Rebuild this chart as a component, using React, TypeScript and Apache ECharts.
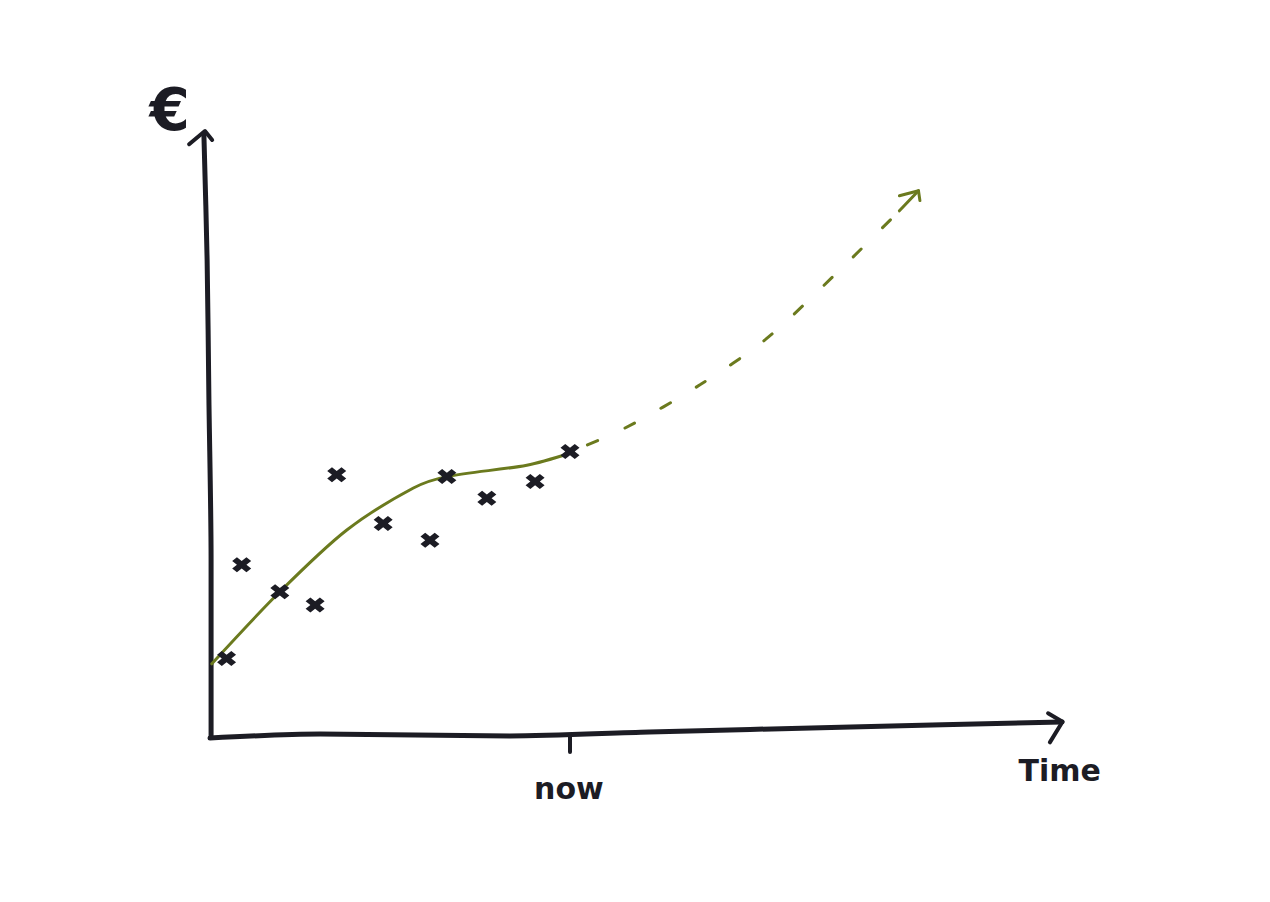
import React, { useEffect, useRef } from "react";
import * as echarts from "echarts";

// Observed values (crosses): time vs euros
const observedTime = [0.46, 0.88, 1.94, 2.92, 3.52, 4.81, 6.11, 6.58, 7.69, 9.03, 10.0];
const observedValue = [13.1, 28.7, 24.2, 22.0, 43.7, 35.6, 32.8, 43.4, 39.8, 42.6, 47.6];

// Fitted trend up to "now"
const trendTime = [0.05, 1.94, 3.8, 5.65, 6.58, 8.8, 10.0];
const trendValue = [12.2, 24.2, 34.5, 41.5, 43.4, 45.3, 47.3];

// Forecast after "now"
const forecastTime = [10.0, 11.53, 13.61, 15.44, 17.47, 19.15];
const forecastValue = [47.5, 51.5, 58.7, 66.3, 77.7, 87.7];
const forecastTipTime = 19.68;
const forecastTipValue = 91.05;
const forecastHeadTime = [19.15, 19.68, 19.72];
const forecastHeadValue = [90.2, 91.05, 89.4];

// Hand-drawn axes
const yAxisTime = [0.03, 0.03, -0.03, -0.08, -0.17];
const yAxisValue = [0, 29.5, 56.2, 79.5, 100.5];
const yHeadTime = [-0.58, -0.14, 0.06];
const yHeadValue = [98.8, 101.0, 99.5];
const xAxisTime = [0, 3.06, 8.33, 12.2, 17.8, 23.67];
const xAxisValue = [-0.17, 0.5, 0.17, 0.83, 1.67, 2.5];
const xHeadTime = [23.28, 23.68, 23.33];
const xHeadValue = [3.95, 2.55, -0.9];
const nowTime = 10;
const nowTickValue = [0.1, -2.5];

// Texts
const labelTexts = ["€", "Time", "now"];
const labelTime = [-1.12, 23.6, 9.97];
const labelValue = [104.5, -5.5, -8.6];

const pairs = (xs: number[], ys: number[]) => xs.map((x, i) => [x, ys[i]]);

const INK = "#1c1c24";
const GREEN = "#6b7a1e";

export default function App() {
  const ref = useRef<HTMLDivElement>(null);
  useEffect(() => {
    if (!ref.current) return;
    const chart = echarts.init(ref.current, undefined, { renderer: "svg" });
    const inkLine = (data: number[][], width = 5) => ({
      type: "line",
      data,
      symbol: "none",
      smooth: 0.3,
      silent: true,
      lineStyle: { color: INK, width, cap: "round", join: "round" },
      z: 2,
    });
    const labelSizes = [58, 30, 30];
    chart.setOption({
      animation: false,
      backgroundColor: "#ffffff",
      grid: { left: 138, right: 160, top: 77, bottom: 45 },
      xAxis: { type: "value", min: -2, max: 25, show: false },
      yAxis: { type: "value", min: -20, max: 110, show: false },
      series: [
        inkLine(pairs(yAxisTime, yAxisValue)),
        { ...inkLine(pairs(yHeadTime, yHeadValue), 4), smooth: false },
        inkLine(pairs(xAxisTime, xAxisValue)),
        { ...inkLine(pairs(xHeadTime, xHeadValue), 4), smooth: false },
        { ...inkLine([[nowTime, nowTickValue[0]], [nowTime, nowTickValue[1]]], 4), smooth: false },
        {
          type: "line",
          data: pairs(trendTime, trendValue),
          symbol: "none",
          smooth: 0.3,
          lineStyle: { color: GREEN, width: 3, cap: "round" },
          z: 3,
        },
        {
          type: "line",
          data: pairs(forecastTime, forecastValue),
          symbol: "none",
          smooth: 0.3,
          lineStyle: { color: GREEN, width: 3, type: [11, 30], dashOffset: 22, cap: "round" },
          z: 3,
        },
        {
          type: "line",
          data: [[forecastTime[forecastTime.length - 1], forecastValue[forecastValue.length - 1]], [forecastTipTime, forecastTipValue]],
          symbol: "none",
          lineStyle: { color: GREEN, width: 3, cap: "round" },
          z: 3,
        },
        {
          type: "line",
          data: pairs(forecastHeadTime, forecastHeadValue),
          symbol: "none",
          lineStyle: { color: GREEN, width: 3, cap: "round", join: "round" },
          z: 3,
        },
        {
          type: "scatter",
          data: pairs(observedTime, observedValue),
          symbol:
            "path://M0,3 L3,0 L6,3 L9,0 L12,3 L9,6 L12,9 L9,12 L6,9 L3,12 L0,9 L3,6 Z",
          symbolSize: [19, 15],
          itemStyle: { color: INK, opacity: 1 },
          z: 4,
        },
        {
          type: "scatter",
          symbolSize: 0,
          clip: false,
          silent: true,
          itemStyle: { opacity: 1 },
          data: labelTexts.map((t, i) => ({
            value: [labelTime[i], labelValue[i]],
            label: {
              show: true,
              formatter: t,
              position: "inside",
              fontSize: labelSizes[i],
              fontWeight: "bold",
              fontFamily: "DejaVu Sans",
              color: INK,
            },
          })),
          z: 5,
        },
      ],
    });
    return () => chart.dispose();
  }, []);
  return (
    <div
      ref={ref}
      style={{ position: "absolute", left: 0, top: 0, width: 1270, height: 902, background: "#fff" }}
    />
  );
}
